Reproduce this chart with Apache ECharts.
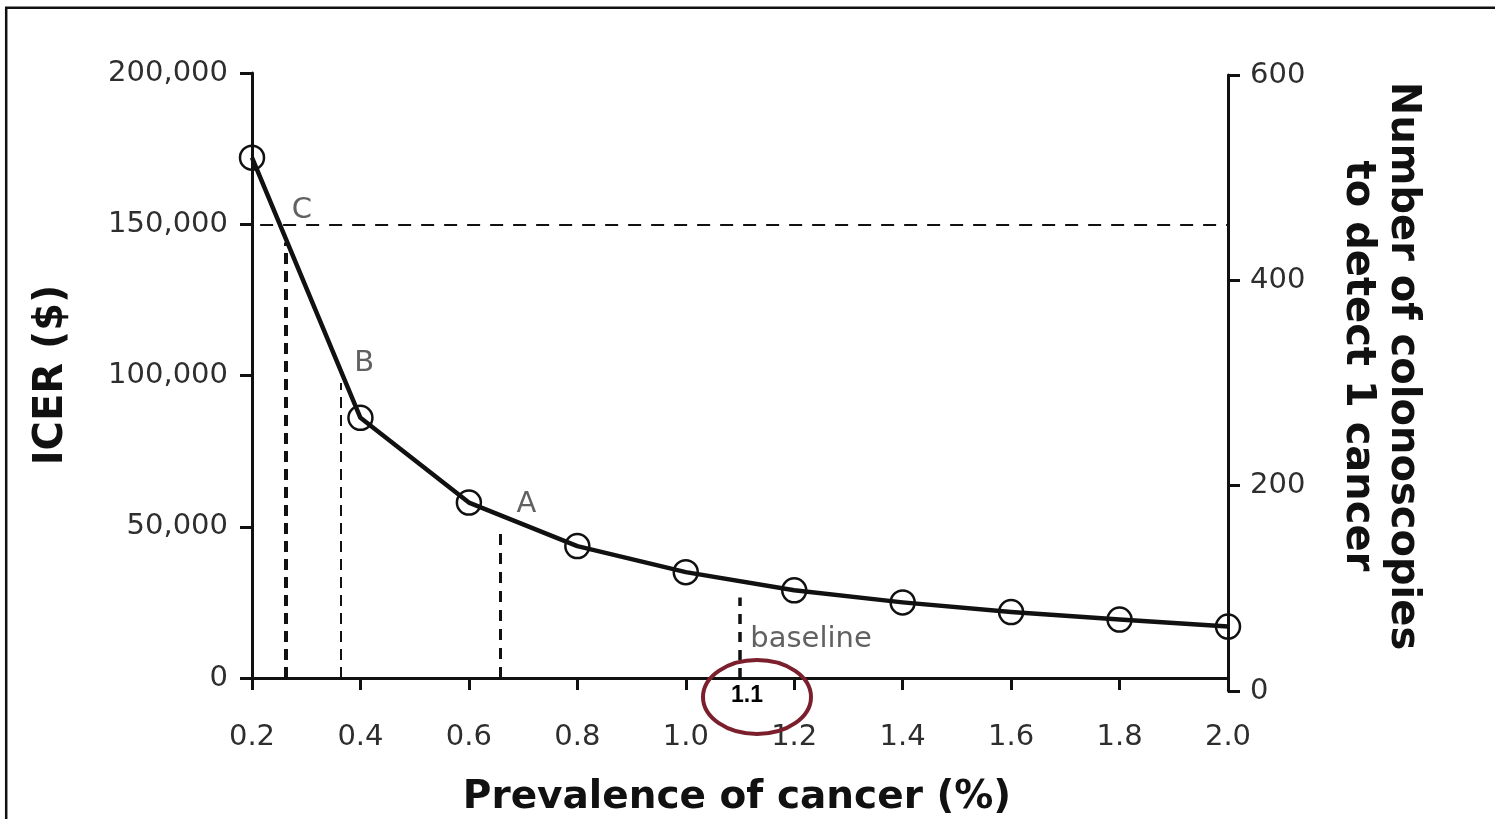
<!DOCTYPE html>
<html><head><meta charset="utf-8">
<script src="https://cdn.jsdelivr.net/npm/echarts/dist/echarts.min.js"></script>
<style>html,body{margin:0;padding:0;background:#fff}#c{width:1495px;height:819px}</style>
</head><body><div id="c"></div>
<script>
// ---- data ----
const prevalence = [0.2, 0.4, 0.6, 0.8, 1.0, 1.2, 1.4, 1.6, 1.8, 2.0];
const icer = [172000, 86000, 58000, 43600, 35000, 29000, 25000, 21800, 19300, 17000];
const icerTickLabels = ['0', '50,000', '100,000', '150,000', '200,000'];
const colonoscopyTickLabels = ['0', '200', '400', '600'];
const thresholdIcer = 150000;
const thresholdStart = 0.215;
const cutPoints = ['C', 'B', 'A'];
const cutPrevalence = [0.263, 0.364, 0.658];
const cutIcerTop = [144000, 97500, 50000];
const cutLabelPrev = [0.292, 0.407, 0.706];
const cutLabelIcer = [154700, 104100, 57500];
const baselinePrev = 1.1;
const baselineTop = 26600;
const baselineLabel = 'baseline';
const baselineLabelPrev = 1.119;
const baselineLabelIcer = 12600;
const calloutText = '1.1';

const chart = echarts.init(document.getElementById('c'), null, {renderer: 'canvas'});
const tickFont = {fontFamily: '"DejaVu Sans"', fontSize: 29, color: '#2e2e2e'};
const axisLine = {show: true, onZero: false, lineStyle: {color: '#111', width: 3}};
const axisTick = {show: true, inside: false, length: 12, lineStyle: {color: '#111', width: 3}};
const dashStyles = [
  {color: '#111', width: 4, type: [11, 7]},
  {color: '#111', width: 2, type: [11, 7]},
  {color: '#111', width: 3, type: [11, 8]}
];

const markData = [
  [{coord: [thresholdStart, thresholdIcer], lineStyle: {color: '#111', width: 2, type: [13, 10]}}, {coord: [prevalence[prevalence.length - 1], thresholdIcer]}]
];
cutPoints.forEach((n, i) => {
  markData.push([{coord: [cutPrevalence[i], 0], lineStyle: dashStyles[i]}, {coord: [cutPrevalence[i], cutIcerTop[i]]}]);
});
markData.push([{coord: [baselinePrev, 0], lineStyle: {color: '#111', width: 3.5, type: [10, 8]}}, {coord: [baselinePrev, baselineTop]}]);

const option = {
  animation: false,
  backgroundColor: '#fff',
  grid: [
    {left: 252, right: 267, top: 73, height: 605, containLabel: false, outerBoundsMode: 'none'},
    {left: 252, right: 267, top: 75, height: 616, containLabel: false, outerBoundsMode: 'none'}
  ],
  xAxis: [
    {type: 'value', gridIndex: 0, min: 0.2, max: 2.0, interval: 0.2,
     axisLine: axisLine, splitLine: {show: false}, axisTick: axisTick,
     axisLabel: Object.assign({margin: 45, formatter: v => v.toFixed(1)}, tickFont)},
    {type: 'value', gridIndex: 1, min: 0, max: 1, show: false}
  ],
  yAxis: [
    {type: 'value', gridIndex: 0, min: 0, max: 200000, interval: 50000, position: 'left',
     axisLine: axisLine, splitLine: {show: false}, axisTick: axisTick,
     axisLabel: Object.assign({margin: 24, padding: [4, 0, 0, 0], formatter: v => icerTickLabels[Math.round(v / 50000)]}, tickFont)},
    {type: 'value', gridIndex: 1, min: 0, max: 600, interval: 200, position: 'right',
     axisLine: axisLine, splitLine: {show: false}, axisTick: axisTick,
     axisLabel: Object.assign({margin: 22, padding: [6, 0, 0, 0], formatter: v => colonoscopyTickLabels[Math.round(v / 200)]}, tickFont)}
  ],
  series: [
    {type: 'line', xAxisIndex: 0, yAxisIndex: 0,
     data: prevalence.map((p, i) => [p, icer[i]]),
     smooth: false,
     lineStyle: {color: '#111', width: 4.5, join: 'round'},
     symbol: 'circle', symbolSize: 24,
     itemStyle: {color: 'rgba(0,0,0,0)', borderColor: '#111', borderWidth: 2.5},
     silent: true, z: 3,
     markLine: {symbol: 'none', silent: true, label: {show: false}, data: markData}
    },
    {type: 'scatter', xAxisIndex: 0, yAxisIndex: 0, symbolSize: 0, silent: true,
     data: cutPoints.map((n, i) => ({name: n, value: [cutLabelPrev[i], cutLabelIcer[i]]})),
     label: {show: true, position: 'inside', formatter: p => p.name,
             fontFamily: '"DejaVu Sans"', fontSize: 29, color: '#3a3a3a'}
    },
    {type: 'scatter', xAxisIndex: 0, yAxisIndex: 0, symbolSize: 0, silent: true,
     data: [{name: baselineLabel, value: [baselineLabelPrev, baselineLabelIcer]}],
     label: {show: true, position: 'right', distance: 0, formatter: p => p.name,
             fontFamily: '"DejaVu Sans"', fontSize: 29, color: '#3a3a3a'}
    }
  ],
  graphic: [
    {type: 'polyline', silent: true, shape: {points: [[6.2, 830], [6.2, 7.8], [1500, 7.8]]},
     style: {stroke: '#111', lineWidth: 2.5, fill: null}},
    {type: 'text', x: 52, y: 375, rotation: Math.PI / 2, silent: true,
     style: {text: 'ICER ($)', fontFamily: '"DejaVu Sans"', fontWeight: 'bold', fontSize: 40, fill: '#111', align: 'center', verticalAlign: 'middle'}},
    {type: 'text', x: 1380, y: 366, rotation: -Math.PI / 2, silent: true,
     style: {text: 'Number of colonoscopies\nto detect 1 cancer', fontFamily: '"DejaVu Sans"', fontWeight: 'bold', fontSize: 40, lineHeight: 45, fill: '#111', align: 'center', verticalAlign: 'middle'}},
    {type: 'text', x: 737, y: 798, silent: true,
     style: {text: 'Prevalence of cancer (%)', fontFamily: '"DejaVu Sans"', fontWeight: 'bold', fontSize: 39, fill: '#111', align: 'center', verticalAlign: 'middle'}},
    {type: 'ellipse', silent: true, z: 10, shape: {cx: 757, cy: 697, rx: 54, ry: 37},
     style: {stroke: '#7b1f2d', lineWidth: 4, fill: null}},
    {type: 'text', x: 747, y: 696, silent: true, z: 10,
     style: {text: calloutText, fontFamily: '"Liberation Sans"', fontWeight: 'bold', fontSize: 23, fill: '#000', align: 'center', verticalAlign: 'middle'}}
  ]
};
chart.setOption(option);
</script>
</body></html>
